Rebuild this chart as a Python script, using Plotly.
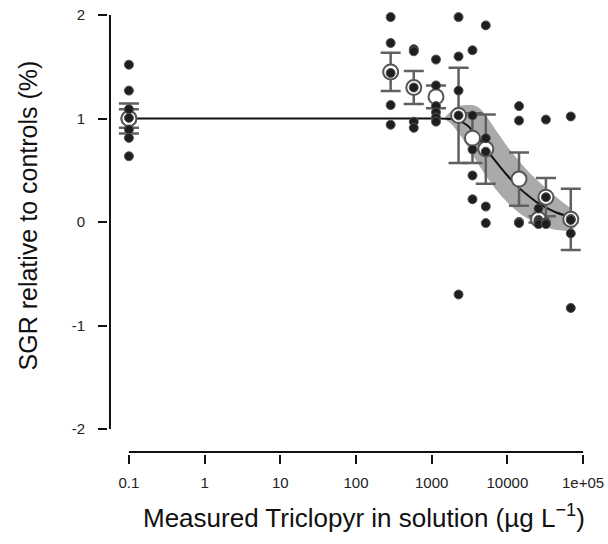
import plotly.graph_objects as go

# ---------------- data ----------------
# treatment groups: concentration (µg/L), mean SGR, standard error
group_conc = [0.1, 0.1, 287, 580, 1140, 2263, 3460, 5185, 14250, 25800, 32300, 68800]
group_mean = [1.0, 1.0, 1.45, 1.30, 1.21, 1.03, 0.81, 0.705, 0.415, 0.026, 0.24, 0.026]
group_se = [0.145, 0.09, 0.185, 0.16, 0.11, 0.46, 0.24, 0.335, 0.258, 0.03, 0.185, 0.295]

# individual replicates per concentration
rep_conc = [0.1, 287, 580, 1140, 2263, 3460, 5185, 14250, 25800, 32300, 68800]
rep_values = [
    [1.52, 1.27, 1.09, 1.006, 0.894, 0.813, 0.636],
    [1.98, 1.73, 1.44, 1.13, 0.94],
    [1.67, 1.65, 1.30, 0.97, 0.91],
    [1.57, 1.32, 1.12, 1.06, 1.01, 0.97],
    [1.98, 1.60, 1.27, 1.03, -0.70],
    [1.66, 1.03, 0.70, 0.45, 0.22],
    [1.90, 0.81, 0.68, 0.15, -0.01],
    [1.12, 0.98, 0.0, 0.0, -0.01],
    [0.13, 0.02, 0.0, 0.0, -0.02],
    [0.99, 0.24, 0.0, -0.01, -0.02],
    [1.02, 0.03, 0.02, -0.11, -0.83],
]

# fitted dose-response curve
curve_x = [0.1, 1000, 1800, 2263, 3000, 3460, 4300, 5185, 7500, 10000, 14250, 20000, 25800, 32300, 45000, 68800]
curve_y = [1.0, 1.0, 0.995, 0.98, 0.93, 0.88, 0.80, 0.71, 0.56, 0.45, 0.33, 0.24, 0.18, 0.14, 0.09, 0.05]

# confidence band around the curve
band_x = [1500, 1800, 2263, 3000, 3460, 4300, 5185, 7500, 10000, 14250, 20000, 32300, 50000, 68800, 82000]
band_lo = [1.0, 0.95, 0.86, 0.73, 0.65, 0.54, 0.45, 0.29, 0.19, 0.09, 0.02, -0.05, -0.08, -0.08, -0.03]
band_hi = [1.0, 1.07, 1.12, 1.13, 1.13, 1.10, 1.03, 0.86, 0.73, 0.59, 0.47, 0.33, 0.21, 0.13, 0.05]

# axis extents drawn R-style (lines only span the tick range)
x_axis_span = [0.1, 100000]
y_axis_span = [-2, 2]
x_tickvals = [0.1, 1, 10, 100, 1000, 10000, 100000]
x_ticktext = ["0.1", "1", "10", "100", "1000", "10000", "1e+05"]
y_tickvals = [-2, -1, 0, 1, 2]
y_ticktext = ["-2", "-1", "0", "1", "2"]

FONT = "Liberation Sans, Arial, Helvetica, sans-serif"

X_RANGE = [-1.2763, 5.25]
Y_RANGE = [-2.241, 2.097]
X_AXIS_POS = 10 ** -1.25   # where the y-axis line sits
Y_AXIS_POS = -2.222        # where the x-axis line sits

fig = go.Figure()

# confidence band
fig.add_trace(go.Scatter(x=band_x + band_x[::-1], y=band_hi + band_lo[::-1],
                         fill="toself", fillcolor="#aaaaaa", line=dict(width=0, shape="spline"),
                         mode="lines", hoverinfo="skip", showlegend=False))
# fitted curve
fig.add_trace(go.Scatter(x=curve_x, y=curve_y, mode="lines",
                         line=dict(color="#111111", width=2, shape="spline"), showlegend=False))
# means with SE
fig.add_trace(go.Scatter(x=group_conc, y=group_mean, mode="markers",
                         marker=dict(size=15, color="white", line=dict(color="#555555", width=2)),
                         error_y=dict(type="data", array=group_se, color="#606060", thickness=2.5, width=10),
                         showlegend=False))
# replicates
dx, dy = [], []
for c, vals in zip(rep_conc, rep_values):
    for v in vals:
        dx.append(c)
        dy.append(v)
fig.add_trace(go.Scatter(x=dx, y=dy, mode="markers",
                         marker=dict(size=9, color="#1e1e1e", line=dict(color="#555555", width=1)),
                         showlegend=False))

# R-style detached axis lines
fig.add_trace(go.Scatter(x=x_axis_span, y=[Y_AXIS_POS, Y_AXIS_POS], mode="lines",
                         line=dict(color="#111111", width=2), hoverinfo="skip", showlegend=False))
fig.add_trace(go.Scatter(x=[X_AXIS_POS, X_AXIS_POS], y=y_axis_span, mode="lines",
                         line=dict(color="#111111", width=2), hoverinfo="skip", showlegend=False))

fig.add_annotation(text="Measured Triclopyr in solution (µg L<sup>−1</sup>)", xref="paper", yref="paper",
                   x=0.518, y=-0.1403, xanchor="center", yanchor="middle", showarrow=False,
                   font=dict(family=FONT, size=26, color="#111111"))
fig.add_annotation(text="SGR relative to controls (%)", xref="paper", yref="paper",
                   x=-0.1613, y=0.532, xanchor="center", yanchor="middle", textangle=-90, showarrow=False,
                   font=dict(family=FONT, size=25, color="#111111"))

fig.update_layout(
    width=608, height=544, autosize=False,
    margin=dict(l=108, r=4, t=5, b=90),
    paper_bgcolor="white", plot_bgcolor="white",
    font=dict(family=FONT, color="#222222"),
    xaxis=dict(type="log", range=X_RANGE, tickvals=x_tickvals, ticktext=x_ticktext,
               ticks="outside", ticklen=9, tickwidth=1.5, tickcolor="#111111",
               showgrid=False, zeroline=False, showline=False,
               tickfont=dict(size=15, family=FONT, color="#222222"), ticklabelstandoff=6),
    yaxis=dict(range=Y_RANGE, tickvals=y_tickvals, ticktext=y_ticktext,
               ticks="outside", ticklen=9, tickwidth=1.5, tickcolor="#111111",
               showgrid=False, zeroline=False, showline=False,
               tickfont=dict(size=15, family=FONT, color="#222222"), ticklabelstandoff=10),
)

fig.write_html("out.html")
